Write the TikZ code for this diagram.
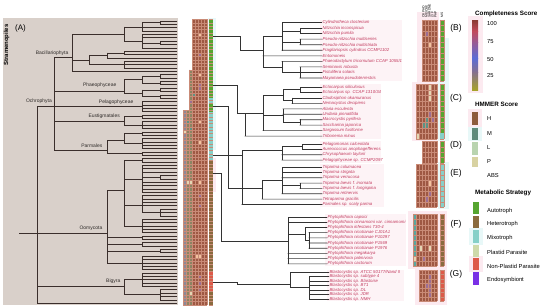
\documentclass[tikz,border=0pt]{standalone}
\usepackage{fontspec}
\setmainfont{Liberation Sans}
\definecolor{bgA}{HTML}{D9D0CA}
\definecolor{treec}{HTML}{3A2E2B}
\definecolor{rtc}{HTML}{333333}
\definecolor{spc}{HTML}{C23A5E}
\definecolor{txtc}{HTML}{2E2A28}
\definecolor{hbase}{HTML}{9E5843}
\definecolor{gridc}{HTML}{C98B77}
\definecolor{purpC}{HTML}{9C6E94}
\definecolor{orC}{HTML}{F2C29E}
\definecolor{begC}{HTML}{E4D6B4}
\definecolor{tealC}{HTML}{5E9384}
\definecolor{tealF}{HTML}{5AA69E}
\definecolor{olC}{HTML}{8B8462}
\definecolor{greyC}{HTML}{8E8796}
\definecolor{autoC}{HTML}{56A530}
\definecolor{hetC}{HTML}{8A6B3E}
\definecolor{mixC}{HTML}{86D0C8}
\definecolor{plC}{HTML}{CEDAAA}
\definecolor{nplC}{HTML}{DD5A49}
\definecolor{endoC}{HTML}{7A30E6}
\definecolor{hC}{HTML}{8D5C3C}
\definecolor{mC}{HTML}{5F8C7C}
\definecolor{lC}{HTML}{B9D4B0}
\definecolor{pC}{HTML}{D8D2A2}
\definecolor{labbg}{HTML}{FDF3F6}
\definecolor{halP}{HTML}{FCEAF0}
\definecolor{halC}{HTML}{E8F8F8}
\definecolor{g1}{HTML}{8A3A32}
\definecolor{g2}{HTML}{C24A5C}
\definecolor{g3}{HTML}{9A5A92}
\definecolor{g4}{HTML}{5B6CD6}
\definecolor{g5}{HTML}{86708E}
\definecolor{g6}{HTML}{A7A22A}
\tikzset{
 tl/.style={draw=treec, line width=0.7bp, line cap=rect},
 rt/.style={draw=rtc, line width=0.6bp, line cap=rect},
 sp/.style={font=\fontsize{4.3}{5}\selectfont\itshape, text=spc, anchor=west, inner sep=0.4bp},
 cl/.style={font=\fontsize{5}{6}\selectfont, text=txtc, anchor=south east, inner sep=0.5bp},
 grp/.style={font=\fontsize{8.5}{10}\selectfont, text=black, inner sep=0},
 ttl/.style={font=\fontsize{6.3}{7}\selectfont\bfseries, anchor=west, inner sep=0},
 lg/.style={font=\fontsize{5.8}{7}\selectfont, anchor=west, inner sep=0},
 hd/.style={font=\fontsize{3.3}{4}\selectfont, rotate=90, anchor=west, inner sep=0.2bp},
 hgrid/.style={draw=gridc, line width=0.25bp},
}
% left tree helpers
\newcommand{\tleaf}[2]{\draw[tl] (#1,{21+3.36*#2}) -- (177,{21+3.36*#2});}
\newcommand{\tvert}[3]{\draw[tl] (#1,#2) -- (#1,#3);}
\newcommand{\thor}[3]{\draw[tl] (#1,#3) -- (#2,#3);}
\newcommand{\tgrp}[3]{\draw[tl] (#1,{21+3.36*#2}) -- (#1,{21+3.36*#3});
  \foreach \q in {#2,...,#3}{\draw[tl] (#1,{21+3.36*\q}) -- (177,{21+3.36*\q});}}
% right tree helpers
\newcommand{\lv}[3]{\draw[rt] (#1,#2) -- (#3.west);}
\newcommand{\rvert}[3]{\draw[rt] (#1,#2) -- (#1,#3);}
\newcommand{\rhor}[3]{\draw[rt] (#1,#3) -- (#2,#3);}
% heatmap helpers
\newcommand{\gheat}[5]{\fill[hbase] (#1,#3) rectangle ({#1+3*#2},{#3+#4*#5});}
\newcommand{\ggrid}[5]{%
  \foreach \c in {0,...,#2}{\draw[hgrid] ({#1+3*\c},#3) -- ({#1+3*\c},{#3+#4*#5});}
  \foreach \r in {0,...,#5}{\draw[hgrid] (#1,{#3+#4*\r}) -- ({#1+3*#2},{#3+#4*\r});}}
\newcommand{\gcell}[6]{\fill[#6] ({#1+3*#4},{#2+#3*#5}) rectangle ++(3,#3);}
\newcommand{\gstrip}[4]{\fill[#4] (440,#1) rectangle (444,{#1+#2*#3});
  \foreach \r in {0,...,#3}{\draw[hgrid] (440,{#1+#2*\r}) -- (444,{#1+#2*\r});}
  \draw[hgrid] (440,#1) -- (440,{#1+#2*#3}) (444,#1) -- (444,{#1+#2*#3});}
\newcommand{\mcell}[3]{\fill[#3] ({183+3*#1},{19.32+3.36*#2}) rectangle ++(3,3.36);}
\begin{document}
\begin{tikzpicture}[x=1bp,y=-1bp]
\useasboundingbox (0,0) rectangle (550,307);
\fill[white] (0,0) rectangle (550,307);

% ---------------- panel A ----------------
\fill[bgA] (3,18) rectangle (178,305);
\node[font=\fontsize{8}{9}\selectfont, anchor=west, inner sep=0] (labA) at (15,28) {(A)};
\node[font=\fontsize{6}{7}\selectfont\bfseries, rotate=90, inner sep=0] (stram) at (6.5,45) {Stramenopiles};

% root
\thor{19}{37}{233}
\tvert{37}{106}{303.24}
\thor{37}{142}{106}
\thor{37}{107}{233}
\thor{37}{124}{286}
\tleaf{37}{84}
% Ochrophyta
\tvert{54}{57}{150}
% Bacillariophyta
\thor{54}{72}{57}
\tvert{72}{34}{71.4}
\thor{72}{124}{34}
\tvert{124}{26.9}{41}
\thor{124}{142}{26.9}
\tvert{142}{22.7}{31.1}
\thor{142}{160}{22.7}
\tgrp{160}{0}{1}
\tleaf{142}{2}\tleaf{142}{3}
\thor{124}{142}{41}
\tvert{142}{34.4}{47.9}
\tleaf{142}{4}\tleaf{142}{5}\tleaf{142}{8}
\thor{142}{160}{42.85}
\tgrp{160}{6}{7}
\thor{72}{89}{60}
\tvert{89}{55.4}{64.7}
\thor{89}{107}{55.4}
\tvert{107}{52.9}{58}
\thor{107}{124}{52.9}
\tgrp{124}{9}{10}
\tleaf{107}{11}
\thor{89}{124}{64.7}
\tgrp{124}{12}{14}
\tleaf{72}{15}
% Phaeophyceae
\thor{54}{124}{91}
\tvert{124}{79.8}{93.24}
\thor{124}{142}{79.8}
\tvert{142}{76.44}{83.16}
\thor{142}{160}{76.44}\tgrp{160}{16}{17}
\thor{142}{160}{83.16}\tgrp{160}{18}{19}
\thor{124}{142}{93.24}
\tvert{142}{89.88}{96.6}
\thor{142}{160}{89.88}\tgrp{160}{20}{21}
\thor{142}{160}{96.6}\tgrp{160}{22}{23}
% Pelagophyceae
\tgrp{142}{24}{27}
% Eustigmatales
\thor{54}{124}{121}
\tvert{124}{116.75}{125.15}
\thor{124}{142}{116.75}\tgrp{142}{28}{29}
\thor{124}{142}{125.15}\tgrp{142}{30}{32}
% Parmales
\thor{54}{107}{150}
\tvert{107}{140}{153.7}
\thor{107}{124}{140}
\tvert{124}{133.6}{143.6}
\thor{124}{142}{133.6}\tgrp{142}{33}{34}
\thor{124}{142}{143.6}\tgrp{142}{35}{38}
\thor{107}{142}{153.7}\tgrp{142}{39}{40}
% Oomycota
\tvert{107}{190}{262.9}
\thor{107}{124}{190}
\tvert{124}{160.5}{226}
\thor{124}{142}{160.5}\tgrp{142}{41}{42}
\thor{124}{142}{179}
\tvert{142}{165.5}{192.4}
\foreach \q in {43,44,45,48,49,50,51}{\tleaf{142}{\q}}
\thor{142}{160}{177.25}\tgrp{160}{46}{47}
\thor{124}{142}{205.8}
\tvert{142}{195.7}{212.5}
\foreach \q in {52,...,55}{\tleaf{142}{\q}}
\thor{142}{160}{212.5}\tgrp{160}{56}{58}
\thor{124}{142}{226}\tgrp{142}{59}{63}
\thor{107}{142}{237.7}\tgrp{142}{64}{65}
\thor{107}{142}{244.4}\tgrp{142}{66}{67}
\thor{107}{160}{251.1}\tgrp{160}{68}{69}
\thor{107}{142}{262.9}\tgrp{142}{70}{74}
% Bigyra
\tvert{124}{279.7}{294.8}
\thor{124}{142}{279.7}\tgrp{142}{75}{79}
\thor{124}{160}{294.8}\tgrp{160}{80}{83}

% clade labels
\node[cl] (lBac) at (69,56) {Bacillariophyta};
\node[cl] (lOch) at (52.5,104.5) {Ochrophyta};
\node[cl] (lPha) at (117,88.5) {Phaeophyceae};
\node[cl] (lPel) at (134,105) {Pelagophyceae};
\node[cl] (lEus) at (120.5,119.5) {Eustigmatales};
\node[cl] (lPar) at (103,148.5) {Parmales};
\node[cl] (lOom) at (103,231.5) {Oomycota};
\node[cl] (lBig) at (121,284.5) {Bigyra};

% ---------------- main heatmap ----------------
\fill[halC] (207.5,18) rectangle (216,150);
\fill[halP] (207.5,158) rectangle (216,192);
\fill[hbase] (192,19.32) rectangle (207,304.92);
\fill[olC] (189,69.72) rectangle (192,304.92);
\fill[olC] (186,110.04) rectangle (189,304.92);
\fill[greyC] (183,110.04) rectangle (186,304.92);
\mcell{5}{4}{orC}\mcell{5}{10}{purpC}\mcell{5}{16}{orC}\mcell{5}{19}{purpC}\mcell{5}{20}{purpC}
\mcell{5}{30}{orC}\mcell{5}{36}{orC}\mcell{1}{48}{begC}\mcell{2}{48}{begC}\mcell{5}{48}{orC}
\mcell{5}{52}{purpC}\mcell{5}{55}{purpC}\mcell{4}{70}{orC}\mcell{5}{70}{orC}
\mcell{5}{76}{purpC}\mcell{5}{78}{purpC}\mcell{5}{80}{purpC}\mcell{2}{81}{begC}
\mcell{1}{30}{tealC}\mcell{2}{32}{tealC}\mcell{0}{33}{begC}\mcell{3}{22}{tealC}\mcell{2}{24}{purpC}
\foreach \r in {0,...,85}{
  \pgfmathsetmacro\yy{19.32+3.36*\r}
  \pgfmathsetmacro\xl{ifthenelse(\r<15,192,ifthenelse(\r<27,189,183))}
  \draw[hgrid] (\xl,\yy) -- (207,\yy);}
\foreach \c in {192,195,...,207}{\draw[hgrid] (\c,19.32) -- (\c,304.92);}
\draw[hgrid] (189,69.72) -- (189,304.92);
\draw[hgrid] (186,110.04) -- (186,304.92) (183,110.04) -- (183,304.92);
% strip
\fill[autoC] (209,19.32) rectangle (213,98);
\fill[mixC] (209,98) rectangle (213,104);
\fill[autoC] (209,104) rectangle (213,112);
\fill[mixC] (209,112) rectangle (213,160);
\fill[hetC] (209,160) rectangle (213,304.92);
\fill[nplC] (209,272) rectangle (213,292);
\foreach \r in {0,...,85}{\draw[hgrid] (209,{19.32+3.36*\r}) -- (213,{19.32+3.36*\r});}

% ---------------- right subtrees ----------------
\fill[labbg] (320,19.7) rectangle (402,80.8);
\fill[labbg] (320,84.3) rectangle (381,138.8);
\fill[labbg] (320,141.3) rectangle (381,162.7);
\fill[labbg] (320,164.3) rectangle (384,207.1);
\fill[labbg] (325,214.4) rectangle (406,266.4);
\fill[labbg] (327,269.8) rectangle (404,301.3);

\foreach \t [count=\k from 0] in {Cylindrotheca closterium,Nitzschia inconspicua,Nitzschia pumila,Pseudo-nitzschia multiseries,Pseudo-nitzschia multistriata,Fragilariopsis cylindrus CCMP1102,Entomoneis,Phaeodactylum tricornutum CCAP 1055/1,Seminavis robusta,Fistulifera solaris,Mayamaea pseudoterrestris}
  {\node[sp] (b\k) at (322,{22.5+5.55*\k}) {\t};}
\foreach \t [count=\k from 0] in {Ectocarpus siliculosus,Ectocarpus sp. CCAP 1310/34,Cladosiphon okamuranus,Nemacystus decipiens,Alaria esculenta,Undaria pinnatifida,Macrocystis pyrifera,Saccharina japonica,Sargassum fusiforme,Tribonema minus}
  {\node[sp] (c\k) at (322,{87+5.45*\k}) {\t};}
\foreach \t [count=\k from 0] in {Pelagomonas calceolata,Aureococcus anophagefferens,Chrysophaeum taylorii,Pelagophyceae sp. CCMP2097}
  {\node[sp] (d\k) at (322,{144+5.35*\k}) {\t};}
\foreach \t [count=\k from 0] in {Triparma columacea,Triparma strigata,Triparma verrucosa,Triparma laevis f. inornata,Triparma laevis f. longispina,Triparma retinervis,Tetraparma gracilis,Parmales sp. scaly parma}
  {\node[sp] (e\k) at (322,{167+5.35*\k}) {\t};}
\foreach \t [count=\k from 0] in {Phytophthora capsici,Phytophthora cinnamomi var. cinnamomi,Phytophthora infestans T30-4,Phytophthora nicotianae CJ01A1,Phytophthora nicotianae P10297,Phytophthora nicotianae P1569,Phytophthora nicotianae P1976,Phytophthora megakarya,Phytophthora palmivora,Phytophthora cactorum}
  {\node[sp] (f\k) at (327,{217+5.2*\k}) {\t};}
\foreach \t [count=\k from 0] in {Blastocystis sp. ATCC 50177/Nand II,Blastocystis sp. subtype 4,Blastocystis sp. Blastoise,Blastocystis sp. BT1,Blastocystis sp. DL,Blastocystis sp. JDR,Blastocystis sp. NMH}
  {\node[sp] (g\k) at (329,{272+4.5*\k}) {\t};}

\coordinate (sB) at (213.5,36);  \coordinate (rB) at (263,50);
\coordinate (sC) at (213.5,85);  \coordinate (rC) at (263,113);
\coordinate (sD) at (213.5,155); \coordinate (rD) at (242,155);
\coordinate (sE) at (213.5,106); \coordinate (rE) at (262,188.4);
\coordinate (sF) at (213.5,173); \coordinate (rF) at (288,241);
\coordinate (sG) at (213.5,282); \coordinate (rG) at (290,284.5);

% B
\lv{282}{22.5}{b0}
\lv{300}{28.05}{b1}\lv{300}{33.6}{b2}\rvert{300}{28.05}{33.6}\rhor{282}{300}{30.825}
\lv{300}{39.15}{b3}\lv{300}{44.7}{b4}\rvert{300}{39.15}{44.7}\rhor{282}{300}{41.925}
\lv{282}{50.25}{b5}\rvert{282}{22.5}{50.25}\rhor{263}{282}{36.375}
\lv{263}{55.8}{b6}
\lv{282}{61.35}{b7}
\lv{300}{66.9}{b8}\lv{300}{72.45}{b9}\lv{300}{78}{b10}\rvert{300}{66.9}{78}\rhor{282}{300}{72.45}
\rvert{282}{61.35}{72.45}\rhor{263}{282}{66.9}
\rvert{263}{36.375}{66.9}
\draw[rt] (sB) -- (240,36) |- (rB);
% C
\lv{300}{87}{c0}\lv{300}{92.45}{c1}\rvert{300}{87}{92.45}\rhor{283}{300}{89.725}
\lv{292}{97.9}{c2}\lv{292}{103.35}{c3}\rvert{292}{97.9}{103.35}\rhor{283}{292}{100.625}
\rvert{283}{89.725}{100.625}\rhor{263}{283}{95.175}
\lv{283}{108.8}{c4}\lv{283}{114.25}{c5}
\lv{300}{119.7}{c6}\lv{300}{125.15}{c7}\rvert{300}{119.7}{125.15}\rhor{283}{300}{122.425}
\rvert{283}{108.8}{122.425}\rhor{263}{283}{115.6}
\lv{263}{130.6}{c8}
\rvert{263}{95.175}{130.6}
\rvert{245}{113}{136.05}
\lv{245}{136.05}{c9}
\draw[rt] (sC) -- (237,85) |- (rC);
% D
\lv{302}{144}{d0}\lv{302}{149.35}{d1}\rvert{302}{144}{149.35}\rhor{282}{302}{146.675}
\lv{282}{154.7}{d2}\lv{282}{160.05}{d3}
\rvert{282}{146.675}{160.05}
\rhor{242}{282}{150}
\rvert{242}{150}{204.45}
\lv{242}{204.45}{e7}
\draw[rt] (sD) -- (rD);
% E
\lv{282}{167}{e0}\lv{282}{172.35}{e1}\lv{282}{177.7}{e2}
\lv{300}{183.05}{e3}\lv{300}{188.4}{e4}\rvert{300}{183.05}{188.4}\rhor{282}{300}{185.725}
\lv{282}{193.75}{e5}
\rvert{282}{167}{193.75}\rhor{262}{282}{180.375}
\lv{262}{199.1}{e6}
\rvert{262}{180.375}{199.1}
\draw[rt] (sE) -- (228,106) |- (rE);
% F
\lv{288}{217}{f0}\lv{288}{222.2}{f1}\lv{305}{227.4}{f2}
\lv{309}{232.6}{f3}\lv{309}{237.8}{f4}\lv{309}{243}{f5}\lv{309}{248.2}{f6}
\rvert{309}{232.6}{248.2}\rhor{305}{309}{240.4}
\rvert{305}{227.4}{240.4}\rhor{288}{305}{233.9}
\lv{288}{253.4}{f7}\lv{288}{258.6}{f8}\lv{288}{263.8}{f9}
\rvert{288}{217}{263.8}
\draw[rt] (sF) -- (221,173) |- (rF);
% G
\lv{290}{272}{g0}
\lv{309}{276.5}{g1}\lv{309}{281}{g2}\lv{309}{285.5}{g3}\lv{309}{290}{g4}\lv{309}{294.5}{g5}\lv{309}{299}{g6}
\rvert{309}{276.5}{299}\rhor{290}{309}{287.75}
\rvert{290}{272}{287.75}
\draw[rt] (sG) -- (237,282) |- (rG);

% ---------------- group heatmaps ----------------
\fill[halP] (417,12) rectangle (439,83);
\fill[halC] (439,38) rectangle (449,83);
\fill[halP] (412,82) rectangle (438,141);
\fill[halC] (438,82) rectangle (449,141);
\fill[halC] (438,162) rectangle (449,209);
\fill[halP] (408,211) rectangle (447,269);
\fill[halP] (415,267) rectangle (447,305);

\gheat{422}{5}{19.725}{5.55}{11}
\gcell{422}{19.725}{5.55}{1}{2}{purpC}\gcell{422}{19.725}{5.55}{2}{4}{orC}
\ggrid{422}{5}{19.725}{5.55}{11}
\gstrip{19.725}{5.55}{11}{autoC}

\gheat{416}{7}{84.275}{5.45}{10}
\gcell{416}{84.275}{5.45}{4}{0}{begC}\gcell{416}{84.275}{5.45}{4}{1}{begC}\gcell{416}{84.275}{5.45}{4}{2}{begC}
\gcell{416}{84.275}{5.45}{4}{5}{purpC}\gcell{416}{84.275}{5.45}{3}{6}{tealC}\gcell{416}{84.275}{5.45}{3}{7}{tealC}
\gcell{416}{84.275}{5.45}{2}{7}{tealC}\gcell{416}{84.275}{5.45}{5}{6}{purpC}\gcell{416}{84.275}{5.45}{0}{9}{begC}
\ggrid{416}{7}{84.275}{5.45}{10}
\gstrip{84.275}{5.45}{10}{autoC}
\fill[mixC] (440,{84.275+5.45*9}) rectangle (444,{84.275+5.45*10});

\gheat{422}{5}{141.325}{5.35}{4}
\ggrid{422}{5}{141.325}{5.35}{4}
\gstrip{141.325}{5.35}{4}{autoC}

\gheat{416}{7}{164.325}{5.35}{8}
\gcell{416}{164.325}{5.35}{4}{3}{orC}\gcell{416}{164.325}{5.35}{4}{5}{purpC}\gcell{416}{164.325}{5.35}{3}{6}{purpC}
\ggrid{416}{7}{164.325}{5.35}{8}
\gstrip{164.325}{5.35}{8}{mixC}

\gheat{413}{8}{214.4}{5.2}{10}
\fill[tealF] (413,214.4) rectangle (416,266.4);
\gcell{413}{214.4}{5.2}{2}{6}{begC}\gcell{413}{214.4}{5.2}{5}{6}{begC}\gcell{413}{214.4}{5.2}{3}{8}{purpC}
\gcell{413}{214.4}{5.2}{0}{8}{begC}
\ggrid{413}{8}{214.4}{5.2}{10}
\gstrip{214.4}{5.2}{10}{hetC}

\gheat{419}{6}{269.75}{4.5}{7}
\foreach \r in {1,...,5}{\gcell{419}{269.75}{4.5}{3}{\r}{purpC}}
\gcell{419}{269.75}{4.5}{2}{3}{purpC}
\ggrid{419}{6}{269.75}{4.5}{7}
\gstrip{269.75}{4.5}{7}{nplC}

% column headers
\foreach \t [count=\k from 0] in {OXPHO,MEIOSE,SARDNE,LYF,PHP}
  {\node[hd] (h\k) at ({423.5+3*\k},18) {\t};}
\node[hd] (h5) at (442,18) {MS};

% group labels
\node[grp] (gB) at (456,28) {(B)};
\node[grp] (gC) at (456,98) {(C)};
\node[grp] (gD) at (456,145) {(D)};
\node[grp] (gE) at (456,173) {(E)};
\node[grp] (gF) at (456,224) {(F)};
\node[grp] (gG) at (456,274) {(G)};

% ---------------- legend ----------------
\node[ttl] (tCS) at (475,14) {Completeness Score};
\fill[halP] (468,16) rectangle (483,93);
\shade[top color=g1, bottom color=g2] (472,20) rectangle (478,31.2);
\shade[top color=g2, bottom color=g3] (472,31) rectangle (478,42.2);
\shade[top color=g3, bottom color=g4] (472,42) rectangle (478,58.2);
\shade[top color=g4, bottom color=g5] (472,58) rectangle (478,72.2);
\shade[top color=g5, bottom color=g6] (472,72) rectangle (478,90);
\node[lg] (v100) at (487,24) {100};
\node[lg] (v75) at (487,42) {75};
\node[lg] (v50) at (487,60) {50};
\node[lg] (v25) at (487,76) {25};

\node[ttl] (tHM) at (475,104) {HMMER Score};
\fill[halP] (468,109) rectangle (482,126.5);
\fill[halC] (468,126.5) rectangle (482,141);
\fill[hC] (472,112) rectangle (478,125);
\fill[mC] (472,127.5) rectangle (478,140);
\fill[lC] (472,142) rectangle (478,155);
\fill[pC] (472,157) rectangle (478,167);
\node[lg] (vH) at (487,119) {H};
\node[lg] (vM) at (487,134) {M};
\node[lg] (vL) at (487,148) {L};
\node[lg] (vP) at (487,162) {P};
\node[lg] (vA) at (487,176) {ABS};

\node[ttl] (tMS) at (475,193) {Metabolic Strategy};
\fill[halC] (469,228) rectangle (483,245);
\fill[halP] (469,256) rectangle (483,272);
\fill[autoC] (473,202) rectangle (479,214);
\fill[hetC] (473,215.5) rectangle (479,228);
\fill[mixC] (473,230) rectangle (479,243);
\fill[plC] (473,245) rectangle (479,257);
\fill[nplC] (473,258) rectangle (479,270);
\fill[endoC] (473,272) rectangle (479,285);
\node[lg] (mA) at (487,211) {Autotroph};
\node[lg] (mH) at (487,224) {Heterotroph};
\node[lg] (mM) at (487,238) {Mixotroph};
\node[lg] (mP) at (487,252) {Plastid Parasite};
\node[lg] (mN) at (487,266) {Non-Plastid Parasite};
\node[lg] (mE) at (487,280) {Endosymbiont};
\end{tikzpicture}
\end{document}
